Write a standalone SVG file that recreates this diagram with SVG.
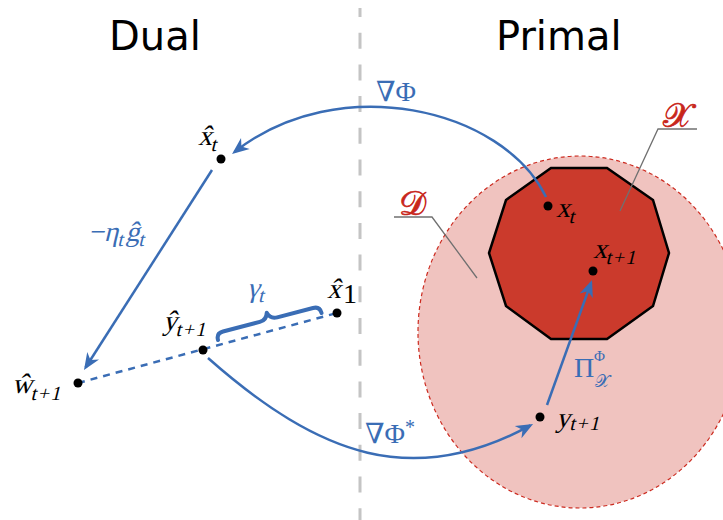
<svg xmlns="http://www.w3.org/2000/svg" width="723" height="520" viewBox="0 0 723 520">
<style>
.title{font-family:"DejaVu Sans","Liberation Sans",sans-serif;font-size:40px;fill:#000}
text.r{font-family:"Liberation Serif","DejaVu Serif",serif;font-size:28px;font-style:normal}
.s{font-size:20px;letter-spacing:1.5px}
.blk{fill:#000}
.blue{fill:#3a6db5}
.red{fill:#c8261b;stroke:#c8261b;stroke-width:0.7}
.conn{fill:none;stroke:#3a6db5;stroke-width:2.5}
.dot{fill:#000}
.lead{fill:none;stroke:#707070;stroke-width:1.3}
</style>
<defs>
<marker id="ah" viewBox="-20 -9 22 18" markerWidth="22" markerHeight="18" refX="-3" refY="0" orient="auto" markerUnits="userSpaceOnUse">
<path d="M0,0 L-17,-7 L-12,0 L-17,7 Z" fill="#3a6db5"/>
</marker>
</defs>
<rect width="723" height="520" fill="#fff"/>
<line x1="360" y1="8" x2="360" y2="520" stroke="#c4c4c4" stroke-width="3" stroke-dasharray="16 15.7" stroke-dashoffset="7"/>
<text class="title" x="109" y="50">Dual</text>
<text class="title" x="496" y="50">Primal</text>
<g id="domain">
<ellipse cx="580" cy="332" rx="162" ry="176" fill="#f0c3bf" stroke="#cc2a1f" stroke-width="1.2" stroke-dasharray="4 3"/>
</g>
<g id="feasible">
<polygon points="551,168 607,168 653,200 669,253 653,306 607,339 551,339 506,306 489,253 506,200" fill="#cb3a2c" stroke="#000" stroke-width="2.5" stroke-linejoin="miter"/>
</g>
<g id="leaders">
<polyline class="lead" points="697,129 658,129 620,211"/>
<polyline class="lead" points="394,217 432,217 477,278"/>
<text class="r red" x="663" y="127" style="font-size:34px">𝒳</text>
<text class="r red" x="399" y="215" style="font-size:34px">𝒟</text>
</g>
<g id="connectors">
<path class="conn" d="M546,197 C503,108 338,70 234.4,152.1" marker-end="url(#ah)"/>
<line class="conn" x1="212" y1="170" x2="85.6" y2="367.5" marker-end="url(#ah)"/>
<line class="conn" x1="78" y1="383" x2="337" y2="313" stroke-dasharray="7 6"/>
<path class="conn" d="M208,358 C320,457 414,489 530.4,425.4" marker-end="url(#ah)"/>
<line class="conn" x1="547" y1="405" x2="591" y2="282.8" marker-end="url(#ah)"/>
<g transform="translate(218,340) rotate(-14.6)">
<path d="M0,0 Q0,-7 7,-7 L45,-7 Q52,-7 54,-14 Q56,-7 63,-7 L100,-7 Q107,-7 107,0" fill="none" stroke="#3a6db5" stroke-width="4" stroke-linecap="round" stroke-linejoin="round"/>
</g>
</g>
<g id="xhat_t"><circle class="dot" cx="221" cy="159" r="4.5"/>
<g transform="translate(198,145) skewX(-14)"><text class="r blk">x̂<tspan class="s" dy="6">t</tspan></text></g></g>
<g id="yhat"><circle class="dot" cx="203" cy="350" r="4.5"/>
<g transform="translate(163,330) skewX(-14)"><text class="r blk">ŷ<tspan class="s" dy="6">t+1</tspan></text></g></g>
<g id="xhat_1"><circle class="dot" cx="337" cy="313" r="4.5"/>
<g transform="translate(327,298) skewX(-14)"><text class="r blk">x̂</text></g>
<text class="r blk s" x="343" y="303">1</text></g>
<g id="what"><circle class="dot" cx="78" cy="383" r="4.5"/>
<g transform="translate(12,393) skewX(-14)"><text class="r blk">ŵ<tspan class="s" dy="7">t+1</tspan></text></g></g>
<g id="x_t"><circle class="dot" cx="548" cy="206" r="4.5"/>
<g transform="translate(556,217) skewX(-14)"><text class="r blk">x<tspan class="s" dy="6">t</tspan></text></g></g>
<g id="x_t1"><circle class="dot" cx="593" cy="271" r="4.5"/>
<g transform="translate(593,258) skewX(-14)"><text class="r blk">x<tspan class="s" dy="6">t+1</tspan></text></g></g>
<g id="y_t1"><circle class="dot" cx="540" cy="417" r="4.5"/>
<g transform="translate(556,427) skewX(-14)"><text class="r blk">y<tspan class="s" dy="3">t+1</tspan></text></g></g>
<g id="labels">
<text class="r blue" x="376" y="101">∇Φ</text>
<text class="r blue" x="365" y="443">∇Φ<tspan class="s" dy="-9">*</tspan></text>
<g transform="translate(88,241) skewX(-14)"><text class="r blue"><tspan>−</tspan>η<tspan class="s" dy="5">t</tspan><tspan dy="-5">ĝ</tspan><tspan class="s" dy="5">t</tspan></text></g>
<g transform="translate(247,297) skewX(-14)"><text class="r blue">γ<tspan class="s" dy="5">t</tspan></text></g>
<text class="r blue" x="574" y="377">Π</text>
<text class="r blue" x="594" y="361" style="font-size:15px">Φ</text>
<text class="r blue" x="595" y="387" style="font-size:17px">𝒳</text>
</g>
</svg>
